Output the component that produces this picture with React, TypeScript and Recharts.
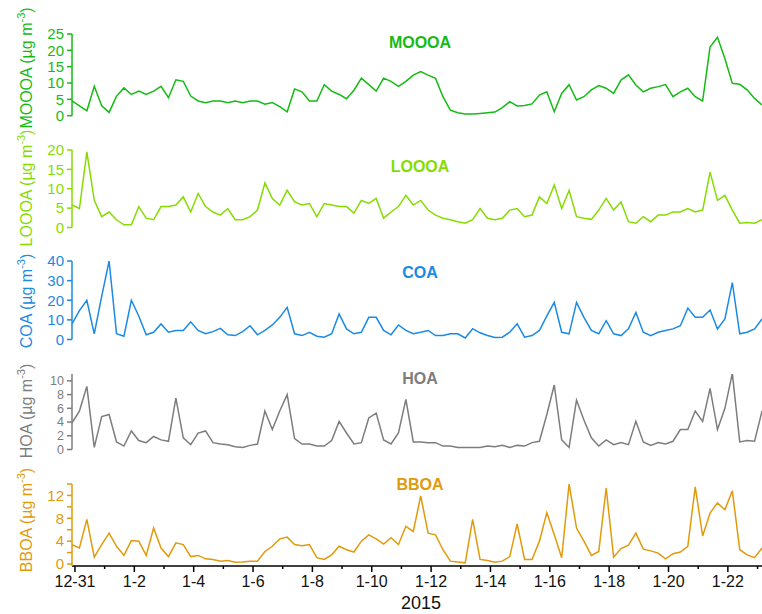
import React from 'react';
import { LineChart, Line, XAxis, YAxis } from 'recharts';

// sampling times, days since 12-31 00:00 (one point every 6 h)
const days = [
  -0.1,
  0.15, 0.4, 0.65, 0.9, 1.15, 1.4, 1.65, 1.9, 2.15, 2.4, 2.65, 2.9,
  3.15, 3.4, 3.65, 3.9, 4.15, 4.4, 4.65, 4.9, 5.15, 5.4, 5.65, 5.9,
  6.15, 6.4, 6.65, 6.9, 7.15, 7.4, 7.65, 7.9, 8.15, 8.4, 8.65, 8.9,
  9.15, 9.4, 9.65, 9.9, 10.15, 10.4, 10.65, 10.9, 11.15, 11.4, 11.65, 11.9,
  12.15, 12.4, 12.65, 12.9, 13.15, 13.4, 13.65, 13.9, 14.15, 14.4, 14.65, 14.9,
  15.15, 15.4, 15.65, 15.9, 16.15, 16.4, 16.65, 16.9, 17.15, 17.4, 17.65, 17.9,
  18.15, 18.4, 18.65, 18.9, 19.15, 19.4, 19.65, 19.9, 20.15, 20.4, 20.65, 20.9,
  21.15, 21.4, 21.65, 21.9, 22.15, 22.4, 22.65, 22.9,
  23.15,
];

const moooa = [
  4.5, 3, 1.5, 9, 3, 1, 6, 8.5, 6.5, 7.5, 6.5, 7.5, 9, 5.5, 11, 10.5, 6, 4.5, 4, 4.5,
  4.5, 4, 4.5, 4, 4.5, 4.5, 3.5, 4, 2.8, 1.2, 8.2, 7.3, 4.5, 4.5, 9.5, 7.5, 6.5, 5.2, 7.8, 11.5,
  9.5, 7.5, 11.5, 10.5, 9, 10.5, 12.4, 13.5, 12.4, 11.4, 5.8, 1.7, 0.9, 0.5, 0.5, 0.7, 0.9, 1.1, 2.5, 4.3,
  3, 3.1, 3.6, 6.3, 7.3, 1.2, 6.8, 9.5, 4.8, 5.8, 7.9, 9.2, 8.4, 6.8, 10.9, 12.5, 9.4, 7.3, 8.4, 8.9,
  9.5, 5.8, 7.3, 8.4, 5.8, 4.5, 21, 24, 17.5, 9.9, 9.6, 7.9, 5.3, 3.3,
];

const looooa = [
  5.8, 4.9, 19.5, 7, 2.8, 4, 2, 0.7, 0.7, 5.4, 2.4, 2, 5.4, 5.4, 5.8, 7.9, 4, 8.8, 5.4, 4,
  3.2, 4.9, 2, 2, 2.8, 4.5, 11.5, 7.5, 5.8, 9.6, 6.6, 5.8, 6.2, 2.8, 6.2, 5.8, 5.4, 5.4, 3.7, 7,
  6.2, 7.5, 2.4, 4, 5.4, 8.3, 5.8, 7, 4.5, 3.2, 2.4, 2, 1.5, 1.1, 2, 4.9, 2.4, 2, 2.4, 4.5,
  4.9, 2.8, 3.2, 7.9, 6.2, 11, 4.9, 9.6, 2.8, 2.4, 2.1, 4.5, 7.5, 4.5, 6.6, 1.5, 1.1, 2.8, 1.5, 3.2,
  3.2, 4, 4, 4.9, 4, 4.5, 14.3, 7, 8.3, 4.5, 1.1, 1.3, 1.1, 2,
];

const coa = [
  7.9, 14.7, 20, 2.9, 22, 40, 3, 1.7, 20, 12, 2.4, 3.7, 7.9, 3.7, 4.6, 4.6, 9, 4.6, 2.9, 4,
  5.7, 2.4, 2, 4, 7, 2.4, 4.6, 7.4, 11.3, 16.4, 2.9, 2, 3.7, 1.7, 1.2, 2.9, 13, 5.4, 2.9, 3.7,
  11.3, 11.3, 4.6, 2.4, 7.4, 4.6, 2.9, 3.7, 4.6, 2, 2, 2.9, 2.9, 0.8, 5.5, 3.4, 2, 1, 1.2, 3.7,
  8, 1.2, 2, 4.6, 12, 18.9, 3.7, 2.9, 18.9, 11.3, 4.6, 2.9, 9.6, 2.9, 2, 5.4, 13.8, 3.7, 2, 3.7,
  4.6, 5.4, 7, 16, 11.3, 11.3, 15, 5.4, 10.5, 29, 2.9, 3.7, 5.4, 10.5,
];

const hoa = [
  3.9, 5.6, 9.2, 0.3, 4.8, 5.1, 1.1, 0.5, 2.7, 1.3, 1, 1.9, 1.4, 1.2, 7.5, 1.7, 0.7, 2.4, 2.7, 1,
  0.8, 0.7, 0.4, 0.3, 0.6, 0.8, 5.6, 2.9, 5.6, 8, 1.6, 0.8, 0.8, 0.5, 0.5, 1.3, 4.1, 2.4, 0.8, 1,
  4.6, 5.3, 1.4, 0.8, 2.4, 7.3, 1.1, 1.1, 1, 1, 0.5, 0.5, 0.3, 0.3, 0.3, 0.3, 0.5, 0.4, 0.6, 0.3,
  0.6, 0.5, 1, 1.2, 5.1, 9.4, 1.4, 0.3, 7.2, 4.3, 1.7, 0.5, 1.4, 0.7, 1, 0.7, 4.1, 1.1, 0.6, 1,
  0.8, 1.2, 2.9, 2.9, 5.6, 4.1, 8.9, 2.9, 6, 11.1, 1.1, 1.3, 1.2, 5.6,
];

const bboa = [
  3.4, 2.8, 7.8, 1.2, 3.4, 5.4, 3.1, 1.5, 4.1, 4, 1.5, 6.3, 2.8, 1.3, 3.7, 3.4, 1.3, 1.5, 0.9, 0.8,
  0.5, 0.6, 0.3, 0.35, 0.5, 0.5, 2.2, 3.1, 4.4, 4.7, 3.4, 3.2, 3.4, 1.1, 0.8, 1.6, 3.1, 2.5, 2.1, 4,
  5.1, 4.4, 3.5, 4.6, 3.4, 6.6, 5.7, 11.9, 5.4, 5.1, 2.5, 0.5, 0.35, 0.2, 7.8, 0.8, 0.6, 0.3, 0.5, 1.3,
  7, 0.8, 0.8, 4, 9, 5.1, 1.1, 14, 6.3, 4, 1.5, 2.2, 13.3, 1.2, 2.7, 3.3, 5.4, 2.6, 2.3, 1.9,
  0.9, 1.8, 2.1, 3.1, 13.5, 4.9, 8.9, 10.7, 9.5, 12.8, 2.5, 1.6, 1.1, 2.8,
];

const dayTicks = [0, 1, 2, 3, 4, 5, 6, 7, 8, 9, 10, 11, 12, 13, 14, 15, 16, 17, 18, 19, 20, 21, 22, 23];
const dayLabels = [
  '12-31', '', '1-2', '', '1-4', '', '1-6', '', '1-8', '', '1-10', '', '1-12', '',
  '1-14', '', '1-16', '', '1-18', '', '1-20', '', '1-22', '',
];

const rows = days.map((t, i) => ({
  t,
  moooa: moooa[i],
  looooa: looooa[i],
  coa: coa[i],
  hoa: hoa[i],
  bboa: bboa[i],
}));

const FONT = '"Liberation Sans", Arial, Helvetica, sans-serif';
const X_DOMAIN: [number, number] = [-0.1, 23.15];
const PAD = 30; // room above/below each plot inside its svg
const X_AXIS_H = 48;

const DayTick = (props: any) => {
  const { x, y, payload } = props;
  const v = payload.value as number;
  const label = dayLabels[v] || '';
  const major = v % 2 === 0;
  return (
    <g>
      <line x1={x} y1={y} x2={x} y2={y + (major ? 6 : 3)} stroke="#000" strokeWidth={1.5} />
      {major && (
        <text x={x} y={y + 21} textAnchor="middle" fontSize={16} fill="#111" fontFamily={FONT}>
          {label}
        </text>
      )}
    </g>
  );
};

type PanelProps = {
  dataKey: string;
  name: string;
  color: string;
  domain: [number, number];
  ticks: number[];
  fmt?: (v: number) => string;
  tickFont?: number;
  plotTop: number;
  plotBottom: number;
  titleY: number;
  labelY: number;
  bottom?: boolean;
};

const Panel = (p: PanelProps) => {
  const plotH = p.plotBottom - p.plotTop;
  const height = p.bottom ? PAD + plotH + X_AXIS_H : PAD + plotH + PAD;
  return (
    <>
      <div style={{ position: 'absolute', left: 0, top: p.plotTop - PAD }}>
        <LineChart
          width={762}
          height={height}
          data={rows}
          margin={{ top: PAD, right: 0, bottom: p.bottom ? 0 : PAD, left: 0 }}
        >
          {p.bottom ? (
            <XAxis
              dataKey="t"
              type="number"
              domain={X_DOMAIN}
              allowDataOverflow
              ticks={dayTicks}
              interval={0}
              height={X_AXIS_H}
              tickSize={0}
              tickMargin={0}
              tickLine={false}
              axisLine={{ stroke: '#000', strokeWidth: 1.5 }}
              tick={<DayTick />}
            />
          ) : (
            <XAxis dataKey="t" type="number" domain={X_DOMAIN} allowDataOverflow hide />
          )}
          <YAxis
            width={72}
            domain={p.domain}
            ticks={p.ticks}
            interval={0}
            allowDataOverflow
            padding={p.bottom ? { top: 0, bottom: 2 } : undefined}
            tickSize={5}
            tickMargin={3}
            tickFormatter={p.fmt}
            stroke={p.color}
            axisLine={{ stroke: p.color, strokeWidth: 1.5 }}
            tickLine={{ stroke: p.color, strokeWidth: 1.5 }}
            tick={{ fill: p.color, fontSize: p.tickFont || 15, fontFamily: FONT }}
          />
          <Line
            type="linear"
            dataKey={p.dataKey}
            stroke={p.color}
            strokeWidth={1.5}
            dot={false}
            isAnimationActive={false}
          />
        </LineChart>
      </div>
      <div
        style={{
          position: 'absolute',
          left: 420,
          top: p.titleY,
          transform: 'translate(-50%, -50%)',
          color: p.color,
          fontWeight: 'bold',
          fontSize: 16,
          whiteSpace: 'nowrap',
        }}
      >
        {p.name}
      </div>
      <div
        style={{
          position: 'absolute',
          left: 27,
          top: p.labelY,
          transform: 'translate(-50%, -50%) rotate(-90deg)',
          color: p.color,
          fontSize: 16,
          lineHeight: '18px',
          whiteSpace: 'nowrap',
        }}
      >
        {p.name} (µg m<span style={{ fontSize: 11, position: 'relative', top: -7 }}>-3</span>)
      </div>
    </>
  );
};

export default function App() {
  return (
    <div
      style={{
        position: 'absolute',
        left: 0,
        top: 0,
        width: 762,
        height: 614,
        background: '#fff',
        overflow: 'hidden',
        fontFamily: FONT,
      }}
    >
      <Panel dataKey="moooa" name="MOOOA" color="#14bb14" domain={[0, 25]} ticks={[0, 5, 10, 15, 20, 25]}
        plotTop={34} plotBottom={115.7} titleY={43} labelY={68} />
      <Panel dataKey="looooa" name="LOOOA" color="#86dc00" domain={[0, 20]} ticks={[0, 5, 10, 15, 20]}
        plotTop={150} plotBottom={227.5} titleY={167} labelY={188} />
      <Panel dataKey="coa" name="COA" color="#1a8ae4" domain={[0, 40]} ticks={[0, 10, 20, 30, 40]}
        plotTop={260.5} plotBottom={339} titleY={273} labelY={301} />
      <Panel dataKey="hoa" name="HOA" color="#7d7d7d" domain={[0, 11]} ticks={[0, 2, 4, 6, 8, 10]}
        tickFont={12.5}
        plotTop={374} plotBottom={449.5} titleY={379} labelY={411} />
      <Panel dataKey="bboa" name="BBOA" color="#e19a0c" domain={[0, 14]} ticks={[0, 2, 4, 6, 8, 10, 12, 14]}
        fmt={(v: number) => (v % 4 === 0 && v !== 0 ? String(v) : v === 0 ? '0' : '')}
        plotTop={484} plotBottom={566} titleY={485} labelY={520} bottom />
      <div
        style={{
          position: 'absolute',
          left: 421,
          top: 603,
          transform: 'translate(-50%, -50%)',
          fontSize: 18,
          color: '#111',
        }}
      >
        2015
      </div>
    </div>
  );
}
